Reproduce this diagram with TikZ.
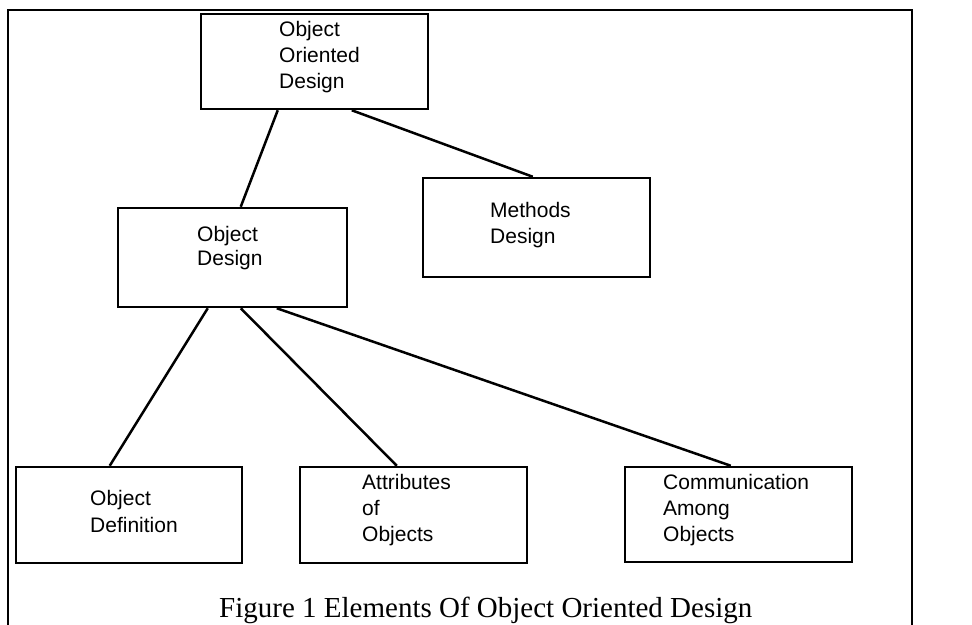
\documentclass[tikz,border=0pt]{standalone}
\usepackage{fontspec}
\setmainfont{Liberation Serif}
\newfontfamily\boxfont{Liberation Sans}
\usetikzlibrary{calc}

% box label: lines stacked from the first baseline, #1 = line spacing
\newcommand{\boxlines}[2]{{\boxfont\fontsize{21}{#1}\selectfont
  \begin{tabular}[t]{@{}l@{}}#2\end{tabular}}}

\tikzset{
  box/.style={draw, line width=2.5pt, rectangle, inner sep=0pt},
  boxtext/.style={anchor=base west, inner sep=0pt},
  link/.style={line width=2.5pt},
  frame/.style={line width=2.5pt},
}

\begin{document}
\begin{tikzpicture}[x=1pt, y=-1pt]
\useasboundingbox (0,0) rectangle (972,624);

% outer frame (open at the bottom)
\draw[frame] (8,630) -- (8,10) -- (912,10) -- (912,630);

% boxes
\node[box, minimum width=227pt, minimum height=95pt] (ood) at (314.5,61.5) {};
\node[box, minimum width=229pt, minimum height=99pt] (od)  at (232.5,257.5) {};
\node[box, minimum width=227pt, minimum height=99pt] (md)  at (536.5,227.5) {};
\node[box, minimum width=226pt, minimum height=96pt] (def) at (129,515) {};
\node[box, minimum width=227pt, minimum height=96pt] (att) at (413.5,515) {};
\node[box, minimum width=227pt, minimum height=95pt] (com) at (738.5,514.5) {};

% box labels
\node[boxtext] (oodt) at (279,36)  {\boxlines{26}{Object\\Oriented\\Design}};
\node[boxtext] (odt)  at (197,241) {\boxlines{24}{Object\\Design}};
\node[boxtext] (mdt)  at (490,217) {\boxlines{26}{Methods\\Design}};
\node[boxtext] (deft) at (90,505)  {\boxlines{27}{Object\\Definition}};
\node[boxtext] (attt) at (362,489) {\boxlines{26}{Attributes\\of\\Objects}};
\node[boxtext] (comt) at (663,489) {\boxlines{26}{Communication\\Among\\Objects}};

% connectors
\draw[link] ([xshift=78pt]ood.south west)  -- ([xshift=124pt]od.north west);
\draw[link] ([xshift=152pt]ood.south west) -- ([xshift=111pt]md.north west);
\draw[link] ([xshift=91pt]od.south west)   -- ([xshift=95pt]def.north west);
\draw[link] ([xshift=124pt]od.south west)  -- ([xshift=98pt]att.north west);
\draw[link] ([xshift=160pt]od.south west)  -- ([xshift=107pt]com.north west);

% caption
\node[anchor=base west, inner sep=0pt, font=\fontsize{29}{34}\selectfont] (cap) at (219,617)
  {Figure 1 Elements Of Object Oriented Design};
\end{tikzpicture}
\end{document}
